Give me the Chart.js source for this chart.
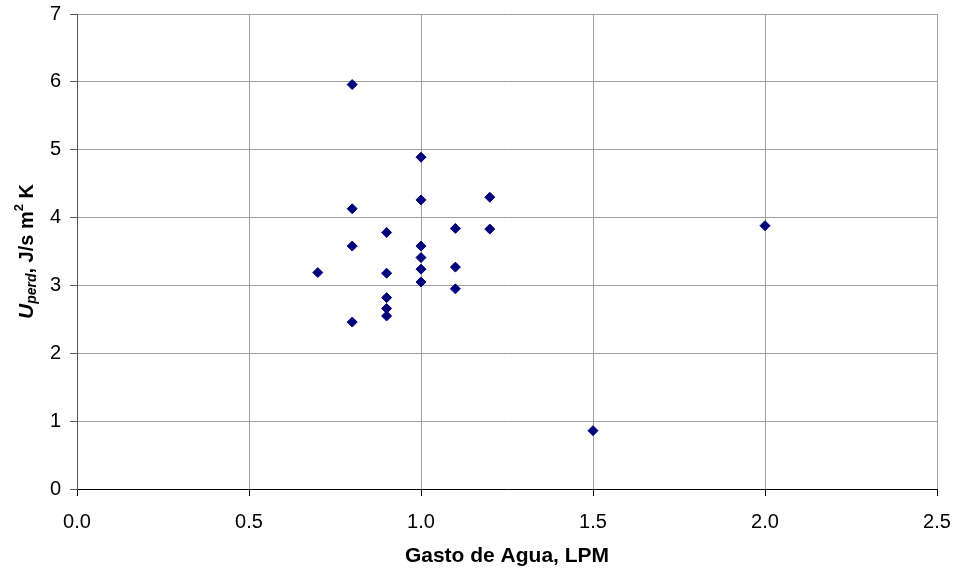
<!DOCTYPE html>
<html>
<head>
<meta charset="utf-8">
<script src="https://cdn.jsdelivr.net/npm/chart.js@4.4.1/dist/chart.umd.min.js"></script>
<style>
  html, body { margin: 0; padding: 0; background: #fff; }
  #wrap { width: 955px; height: 574px; }
</style>
</head>
<body>
<div id="wrap"><canvas id="uChart"></canvas></div>
<script>
// Gasto de agua (LPM) vs coeficiente de pérdidas U_perd
const flowLpm = [0.8, 1.0, 1.2, 0.8, 1.0, 1.1, 1.2, 2.0, 0.9, 0.8, 1.0, 1.0,
                 1.1, 1.0, 0.7, 0.9, 1.0, 1.1, 0.9, 0.9, 0.9, 0.8, 1.5];
const uPerd   = [5.96, 4.89, 4.30, 4.13, 4.26, 3.84, 3.83, 3.88, 3.78, 3.58, 3.58, 3.41,
                 3.27, 3.24, 3.19, 3.18, 3.05, 2.95, 2.82, 2.66, 2.55, 2.46, 0.86];

const xTicks = [0.0, 0.5, 1.0, 1.5, 2.0, 2.5];
const yTicks = [0, 1, 2, 3, 4, 5, 6, 7];

const FONT = "'Liberation Sans', Arial, sans-serif";

// y-axis title with subscript / superscript pieces, drawn rotated
const yTitlePlugin = {
    id: 'yTitle',
    afterDraw(chart) {
        const ctx = chart.ctx;
        const parts = [
            { t: 'U', f: 'italic bold 21px ' + FONT, dy: 0 },
            { t: 'perd', f: 'italic bold 14px ' + FONT, dy: 5 },
            { t: ', J/s m', f: 'bold 20px ' + FONT, dy: 0 },
            { t: '2', f: 'bold 13px ' + FONT, dy: -8 },
            { t: ' K', f: 'bold 20px ' + FONT, dy: 0 }
        ];
        let total = 0;
        parts.forEach(p => { ctx.font = p.f; p.w = ctx.measureText(p.t).width; total += p.w; });
        const cy = (chart.chartArea.top + chart.chartArea.bottom) / 2;
        ctx.save();
        ctx.translate(27, cy);
        ctx.rotate(-Math.PI / 2);
        ctx.fillStyle = '#000';
        ctx.textBaseline = 'middle';
        ctx.textAlign = 'left';
        let x = -total / 2;
        parts.forEach(p => {
            ctx.font = p.f;
            ctx.fillText(p.t, x, p.dy);
            x += p.w;
        });
        ctx.restore();
    }
};

const points = flowLpm.map((x, i) => ({ x: x, y: uPerd[i] }));

new Chart(document.getElementById('uChart'), {
    type: 'scatter',
    data: {
        datasets: [{
            data: points,
            pointStyle: 'rectRot',
            pointRadius: 5,
            pointHoverRadius: 5,
            backgroundColor: '#000080',
            borderColor: '#000080',
            borderWidth: 1
        }]
    },
    options: {
        responsive: true,
        maintainAspectRatio: false,
        animation: false,
        layout: { padding: { left: 0, right: 18, top: 14, bottom: 0 } },
        plugins: {
            legend: { display: false },
            tooltip: { enabled: false }
        },
        scales: {
            x: {
                type: 'linear',
                min: 0,
                max: 2.5,
                afterBuildTicks: s => { s.ticks = xTicks.map(v => ({ value: v })); },
                afterFit: s => {
                    s.height = 85;
                    s.paddingLeft = 0;
                    s.paddingRight = 0;
                },
                grid: { color: '#a0a0a0', tickColor: '#000', tickLength: 7 },
                border: { color: '#000', width: 1 },
                ticks: {
                    color: '#000',
                    font: { family: FONT, size: 20 },
                    padding: 14,
                    maxRotation: 0,
                    callback: v => Number(v).toFixed(1)
                },
                title: {
                    display: true,
                    text: 'Gasto de Agua, LPM',
                    color: '#000',
                    font: { family: FONT, size: 21, weight: 'bold' },
                    padding: { top: 0, bottom: 5 }
                }
            },
            y: {
                type: 'linear',
                min: 0,
                max: 7,
                afterBuildTicks: s => { s.ticks = yTicks.map(v => ({ value: v })); },
                afterFit: s => {
                    s.width = 77;
                    s.paddingTop = 0;
                    s.paddingBottom = 0;
                },
                grid: { color: '#a0a0a0', tickColor: '#555', tickLength: 7 },
                border: { color: '#555', width: 1 },
                ticks: {
                    color: '#000',
                    font: { family: FONT, size: 20 },
                    padding: 9
                }
            }
        }
    },
    plugins: [yTitlePlugin]
});
</script>
</body>
</html>
